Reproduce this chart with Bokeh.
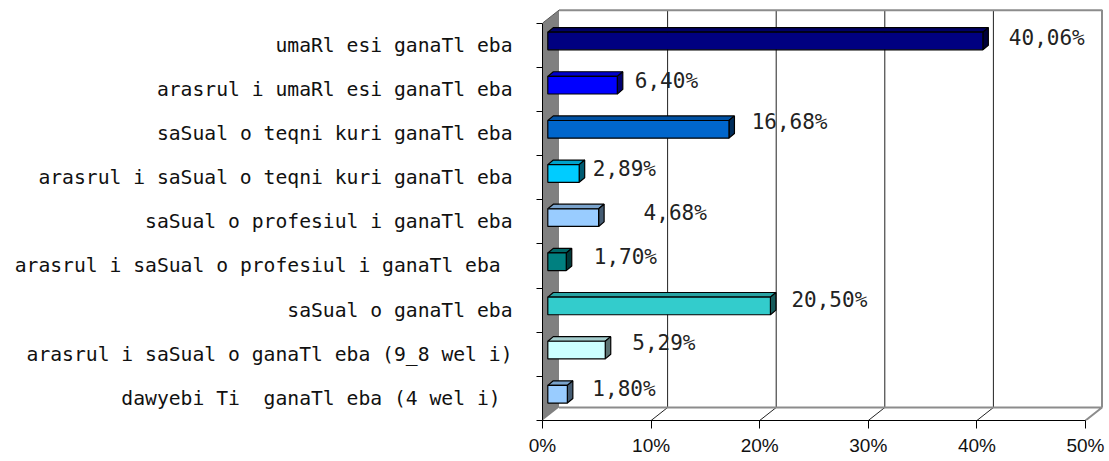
from bokeh.plotting import figure
from bokeh.models import Range1d, FixedTicker, LinearAxis, ColumnDataSource
from bokeh.core.properties import value
from bokeh.embed import file_html
from bokeh.resources import INLINE

# ---------------- data ----------------
categories = [
    "umaRl esi ganaTl eba",
    "arasrul i umaRl esi ganaTl eba",
    "saSual o teqni kuri ganaTl eba",
    "arasrul i saSual o teqni kuri ganaTl eba",
    "saSual o profesiul i ganaTl eba",
    "arasrul i saSual o profesiul i ganaTl eba\u00a0",
    "saSual o ganaTl eba",
    "arasrul i saSual o ganaTl eba (9_8 wel i)",
    "dawyebi Ti\u00a0 ganaTl eba (4 wel i)\u00a0",
]
values = [40.06, 6.40, 16.68, 2.89, 4.68, 1.70, 20.50, 5.29, 1.80]
value_labels = ["40,06%", "6,40%", "16,68%", "2,89%", "4,68%", "1,70%", "20,50%", "5,29%", "1,80%"]
tick_values = [0, 10, 20, 30, 40, 50]
tick_labels = ["0%", "10%", "20%", "30%", "40%", "50%"]

# ---------------- styles ----------------
bar_colors = ["#000080", "#0000FF", "#0066CC", "#00CCFF", "#99CCFF",
              "#008080", "#33CCCC", "#CCFFFF", "#99CCFF"]
# manual placement of the value labels (pixels: right of bar end, up from band centre)
label_dx_px = [26, 17.5, 22.7, 13.6, 45, 27.5, 21, 27, 25]
label_dy_px = [7.7, 8.4, 12, 9, 8.6, 8.8, 10.6, 10.8, 9.9]

W, H = 1109, 461
BORDER_L, BORDER_B = 542, 41
PX_X = 10.86    # pixels per percent
PX_Y = 44.15    # pixels per category band
frame_w = W - BORDER_L
frame_h = H - BORDER_B

def shade(h, f):
    h = h.lstrip("#")
    r, g, b = (int(h[i:i + 2], 16) for i in (0, 2, 4))
    return "#%02x%02x%02x" % (int(r * f), int(g * f), int(b * f))

p = figure(width=W, height=H, output_backend="svg", toolbar_location=None,
           x_range=Range1d(0, frame_w / PX_X),
           y_range=Range1d(0.5, 0.5 + frame_h / PX_Y),
           min_border_left=BORDER_L, min_border_right=0,
           min_border_top=0, min_border_bottom=BORDER_B)
p.outline_line_color = None
p.grid.visible = False
p.background_fill_color = "white"
p.border_fill_color = "white"

n = len(categories)
xmax = tick_values[-1]
y0, y1 = 0.5, n + 0.5
WX = 16.5 / PX_X   # wall depth
WY = 13.0 / PX_Y

wall_gray = "#8c8c8c"
# back wall
p.patch([WX, xmax + WX, xmax + WX, WX], [y0 + WY, y0 + WY, y1 + WY, y1 + WY],
        fill_color="white", line_color=None)
# floor
p.patch([0, xmax, xmax + WX, WX], [y0, y0, y0 + WY, y0 + WY],
        fill_color="white", line_color=None)
# gridlines on back wall and floor
inner = tick_values[1:-1]
p.segment(x0=[t + WX for t in inner], y0=[y0 + WY] * len(inner),
          x1=[t + WX for t in inner], y1=[y1 + WY] * len(inner),
          line_color="#222222", line_width=1)
p.segment(x0=inner, y0=[y0] * len(inner),
          x1=[t + WX for t in inner], y1=[y0 + WY] * len(inner),
          line_color="#222222", line_width=1)
# outer wall edges (gray)
p.line([WX, xmax + WX, xmax + WX], [y1 + WY, y1 + WY, y0 + WY], line_color=wall_gray, line_width=2)
p.line([WX, xmax + WX, xmax], [y0 + WY, y0 + WY, y0], line_color=wall_gray, line_width=2)
# left wall
p.patch([0, WX, WX, 0], [y0, y0 + WY, y1 + WY, y1], fill_color="#808080", line_color=None)
p.line([0, WX], [y1, y1 + WY], line_color="#555555", line_width=1)

# bars
OX, OY = 5.3 / PX_X, 4.2 / PX_Y       # bar position inside the depth
BX, BY = 5.5 / PX_X, 4.6 / PX_Y       # bar depth
BH = 0.4                              # front face height (band units)
fx, fy, tx, ty, sxs, sys_ = [], [], [], [], [], []
for i, v in enumerate(values):
    yc = n - i
    a, b = OX, OX + v
    lo, hi = yc - BH / 2 + OY, yc + BH / 2 + OY
    fx.append([a, b, b, a]); fy.append([lo, lo, hi, hi])
    tx.append([a, b, b + BX, a + BX]); ty.append([hi, hi, hi + BY, hi + BY])
    sxs.append([b, b + BX, b + BX, b]); sys_.append([lo, lo + BY, hi + BY, hi])

p.patches(tx, ty, fill_color=[shade(c, 0.8) for c in bar_colors], line_color="black", line_width=1.2)
p.patches(sxs, sys_, fill_color=[shade(c, 0.45) for c in bar_colors], line_color="black", line_width=1.2)
p.patches(fx, fy, fill_color=bar_colors, line_color="black", line_width=1.2)

# value labels
lsrc = ColumnDataSource(dict(
    x=[OX + v + dx / PX_X for v, dx in zip(values, label_dx_px)],
    y=[n - i + dy / PX_Y for i, dy in enumerate(label_dy_px)],
    t=value_labels))
p.text(x="x", y="y", text="t", source=lsrc, text_font=value("DejaVu Sans Mono"),
       text_font_size="21px", text_baseline="middle", text_align="left", text_color="#222222")

# x axis
xa = p.xaxis[0]
xa.ticker = FixedTicker(ticks=tick_values)
xa.major_label_overrides = {t: l for t, l in zip(tick_values, tick_labels)}
xa.bounds = (0, xmax)
xa.major_tick_out = 8
xa.major_tick_in = 0
xa.minor_tick_line_color = None
xa.axis_line_color = "black"
xa.major_tick_line_color = "black"
xa.major_label_standoff = 6
xa.major_label_text_font = "Liberation Sans"
xa.major_label_text_font_size = "19px"
xa.major_label_text_color = "#111111"

# y axis: boundary ticks
ya = p.yaxis[0]
ya.ticker = FixedTicker(ticks=[k + 0.5 for k in range(n + 1)])
ya.bounds = (y0, y1)
ya.major_tick_out = 6
ya.major_tick_in = 0
ya.minor_tick_line_color = None
ya.axis_line_color = "black"
ya.major_tick_line_color = "black"
ya.major_label_text_font_size = "0px"
ya.major_label_text_color = None
ya.major_label_standoff = 0

# y axis: category labels at band centres
la = LinearAxis(ticker=FixedTicker(ticks=list(range(1, n + 1))))
la.major_label_overrides = {n - i: c for i, c in enumerate(categories)}
la.axis_line_color = None
la.major_tick_line_color = None
la.major_tick_out = 0
la.major_tick_in = 0
la.minor_tick_line_color = None
la.major_label_standoff = 24
la.major_label_text_font = "DejaVu Sans Mono"
la.major_label_text_font_size = "19.7px"
la.major_label_text_color = "#111111"
p.add_layout(la, "left")

open("out.html", "w").write(file_html(p, INLINE))
